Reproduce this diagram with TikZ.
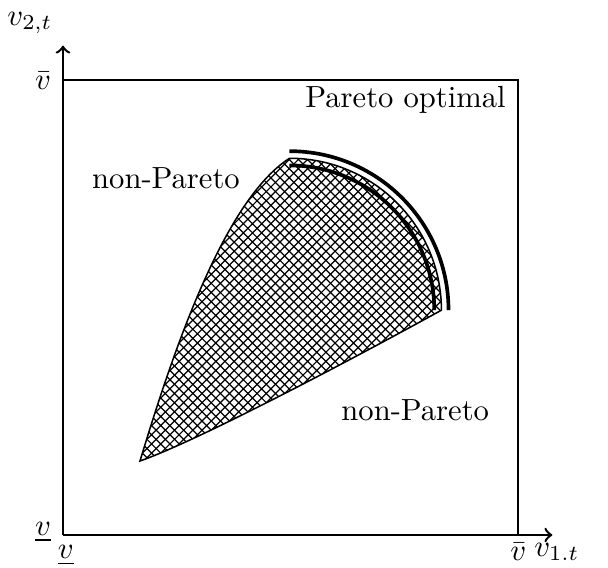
\documentclass[tikz,border=0pt]{standalone}
\usetikzlibrary{patterns}
\begin{document}
\begin{tikzpicture}[
  scale=0.6538,
  axis/.style={line width=0.8pt,->},
  frame/.style={line width=0.8pt},
  region/.style={pattern=crosshatch,draw=black,line width=0.5pt},
  front/.style={line width=1.2pt},
  lbl/.style={inner sep=0pt}
]
\useasboundingbox (-1.107,-0.58) rectangle (9.578,9.402);
% axes
\coordinate (O) at (0,0);
\coordinate (ytip) at (0,8.6);
\coordinate (xtip) at (8.6,0);
\draw[axis] (O) -- (ytip);
\draw[axis] (O) -- (xtip);
% frame
\coordinate (TL) at (0,8);
\coordinate (TR) at (8,8);
\coordinate (BR) at (8,0);
\draw[frame] (TL) -- (TR) -- (BR);
% region
\coordinate (A) at (1.353,1.300);
\coordinate (B) at (3.98,6.62);
\coordinate (Cc) at (6.65,3.95);
\coordinate (ctr) at (3.98,3.95);
\path[region] (A) .. controls (1.968,3.339) and (2.847,5.888) .. (B)
  arc[start angle=90,end angle=0,radius=2.67]
  .. controls (5.220,3.163) and (2.407,1.670) .. (A) -- cycle;
% Pareto front double arc
\draw[front] ([shift={(0,2.795)}]ctr) arc[start angle=90,end angle=0,radius=2.795];
\draw[front] ([shift={(0,2.545)}]ctr) arc[start angle=90,end angle=0,radius=2.545];
% labels
\node[lbl] (l1) at (-0.58,9.0) {$v_{2,t}$};
\node[lbl] (l2) at (8.68,-0.3) {$v_{1.t}$};
\node[lbl,anchor=east] (l3) at (-0.2,7.98) {$\bar{v}$};
\node[lbl,anchor=east] (l4) at (-0.2,0.05) {$\underline{v}$};
\node[lbl] (l5) at (0.05,-0.36) {$\underline{v}$};
\node[lbl] (l6) at (8,-0.3) {$\bar{v}$};
\node[lbl,anchor=east] (t1) at (7.79,7.64) {Pareto optimal};
\node[lbl] (t2) at (1.81,6.27) {non-Pareto};
\node[lbl] (t3) at (6.19,2.20) {non-Pareto};
\end{tikzpicture}
\end{document}
